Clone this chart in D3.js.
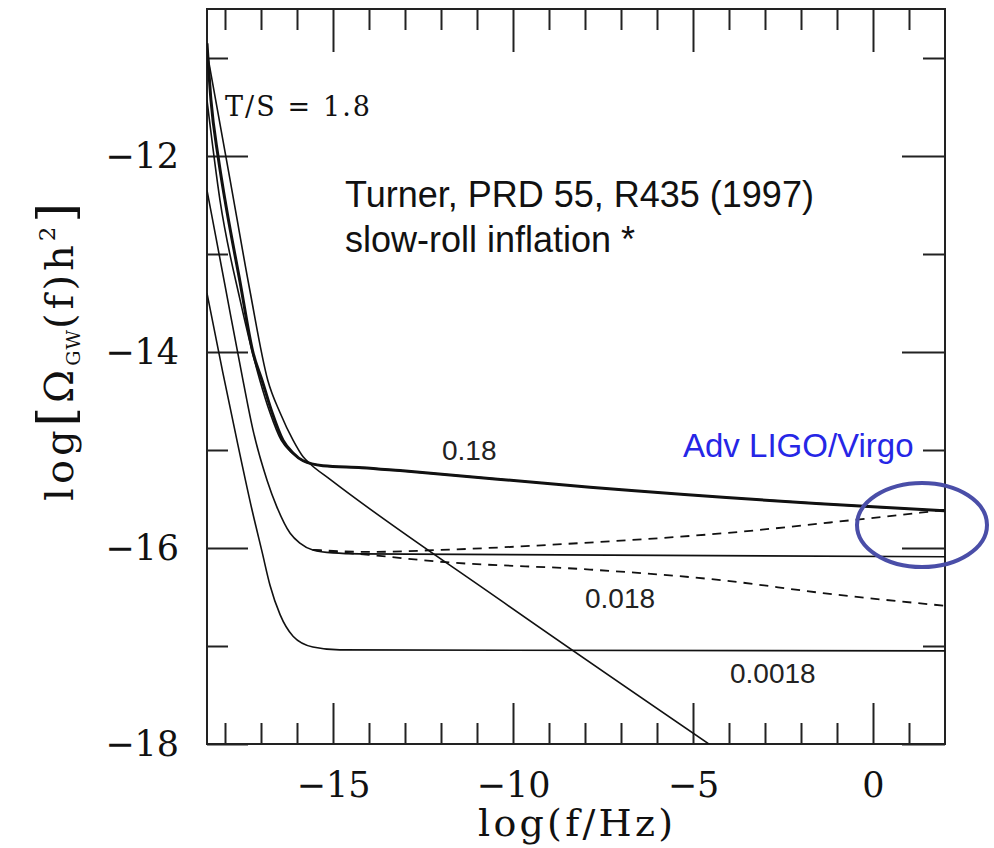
<!DOCTYPE html>
<html>
<head>
<meta charset="utf-8">
<script src="https://cdn.jsdelivr.net/npm/d3@7/dist/d3.min.js"></script>
<style>
  body { margin: 0; background: #fff; }
  svg { display: block; }
</style>
</head>
<body>
<div id="chart"></div>
<script>
// ---- data: [log f, log Omega h^2] ----
// T/S = 0.18 (thick) and its thin companion
const curve0p18 = [[-18.5, -10.85], [-18.39, -11.43], [-18.19, -12.01], [-18.0, -12.45], [-17.58, -13.29],
  [-17.22, -14.01], [-16.97, -14.29], [-16.69, -14.62], [-16.39, -14.90], [-16.11, -15.03], [-15.83, -15.11],
  [-15.28, -15.16], [-14.2, -15.18], [-13.14, -15.21], [-7.86, -15.38], [0, -15.58], [2, -15.62]];
const curve0p18b = [[-18.5, -11.43], [-18.14, -12.45], [-17.58, -13.47], [-17.03, -14.29], [-16.75, -14.62],
  [-16.44, -14.90], [-16.14, -15.03], [-15.83, -15.11], [-15.28, -15.16], [-14.2, -15.18], [-13.14, -15.21],
  [-7.86, -15.38], [0, -15.58], [2, -15.62]];
// T/S = 1.8
const curve1p8 = [[-18.47, -11.0], [-17.86, -12.24], [-17.31, -13.37], [-16.81, -14.29], [-16.47, -14.62],
  [-16.11, -14.90], [-15.83, -15.07], [-15.64, -15.14], [-15.08, -15.30], [-10.36, -16.53], [-4.0, -18.14]];
// T/S = 0.018 (solid) and two dashed variants
const curve0p018 = [[-18.5, -12.35], [-18.0, -13.32], [-17.5, -14.29], [-17.22, -14.80], [-16.83, -15.31],
  [-16.56, -15.58], [-16.19, -15.85], [-15.92, -15.95], [-15.56, -16.02], [-15.0, -16.05], [-14.25, -16.06],
  [2, -16.09]];
const curve0p018Up = [[-15.56, -16.02], [-14.0, -16.04], [-12.03, -16.02], [-8.14, -15.95], [-4.17, -15.85],
  [-0.44, -15.71], [1.31, -15.64], [2, -15.61]];
const curve0p018Down = [[-15.56, -16.02], [-14.0, -16.07], [-12.03, -16.14], [-7.86, -16.22], [-4.17, -16.33],
  [-1.39, -16.46], [2, -16.59]];
// T/S = 0.0018
const curve0p0018 = [[-18.5, -13.40], [-18.06, -14.21], [-17.64, -14.95], [-17.25, -15.61], [-16.97, -16.04],
  [-16.75, -16.38], [-16.47, -16.68], [-16.11, -16.90], [-15.56, -17.01], [-14.81, -17.04], [2, -17.05]];

const tsLabels = ["0.18", "0.018", "0.0018"];

// ticks
const xMajorTicks = [-15, -10, -5, 0];
const xMinorTicks = [-18, -17, -16, -14, -13, -12, -11, -9, -8, -7, -6, -4, -3, -2, -1, 1];
const yMajorTicks = [-18, -16, -14, -12];
const yMinorTicks = [-17, -15, -13, -11];

// ---- size & margins ----
const margin = { top: 9, right: 49, bottom: 104, left: 207 },
      width = 994 - margin.left - margin.right,
      height = 848 - margin.top - margin.bottom;

const svgRoot = d3.select("#chart")
  .append("svg")
    .attr("width", 994)
    .attr("height", 848);

const svg = svgRoot.append("g")
    .attr("transform", `translate(${margin.left},${margin.top})`);

const x = d3.scaleLinear().domain([-18.5, 2]).range([0, width]);
const y = d3.scaleLinear().domain([-18, -10.5]).range([height, 0]);

const serif = "'DejaVu Serif', serif";
const sans = "'Liberation Sans', Arial, sans-serif";

// ---- axes (inward ticks on all four sides) ----
function styleAxis(g) {
  g.select(".domain").remove();
  g.selectAll(".tick line").attr("stroke", "#222").attr("stroke-width", 2);
}

svg.append("g")
  .attr("transform", `translate(0,${height})`)
  .call(d3.axisBottom(x).tickValues(xMajorTicks).tickSizeInner(-41).tickSizeOuter(0).tickPadding(28))
  .call(styleAxis)
  .selectAll("text")
    .style("font-family", serif).style("font-size", "35px").attr("fill", "#111");

svg.append("g")
  .attr("transform", `translate(0,${height})`)
  .call(d3.axisBottom(x).tickValues(xMinorTicks).tickSizeInner(-21).tickSizeOuter(0).tickFormat(""))
  .call(styleAxis);

svg.append("g")
  .call(d3.axisTop(x).tickValues(xMajorTicks).tickSizeInner(-43).tickSizeOuter(0).tickFormat(""))
  .call(styleAxis);

svg.append("g")
  .call(d3.axisTop(x).tickValues(xMinorTicks).tickSizeInner(-21).tickSizeOuter(0).tickFormat(""))
  .call(styleAxis);

svg.append("g")
  .call(d3.axisLeft(y).tickValues(yMajorTicks).tickSizeInner(-41).tickSizeOuter(0).tickPadding(28))
  .call(styleAxis)
  .selectAll("text")
    .style("font-family", serif).style("font-size", "35px").attr("fill", "#111");

svg.append("g")
  .call(d3.axisLeft(y).tickValues(yMinorTicks).tickSizeInner(-21).tickSizeOuter(0).tickFormat(""))
  .call(styleAxis);

svg.append("g")
  .attr("transform", `translate(${width},0)`)
  .call(d3.axisRight(y).tickValues(yMajorTicks).tickSizeInner(-43).tickSizeOuter(0).tickFormat(""))
  .call(styleAxis);

svg.append("g")
  .attr("transform", `translate(${width},0)`)
  .call(d3.axisRight(y).tickValues(yMinorTicks).tickSizeInner(-22).tickSizeOuter(0).tickFormat(""))
  .call(styleAxis);

// frame
svg.append("rect")
  .attr("width", width)
  .attr("height", height)
  .attr("fill", "none")
  .attr("stroke", "#222")
  .attr("stroke-width", 2);

// ---- curves ----
svg.append("clipPath").attr("id", "plotClip")
  .append("rect").attr("width", width).attr("height", height);

const line = d3.line()
  .x(d => x(d[0]))
  .y(d => y(d[1]))
  .curve(d3.curveMonotoneX);

const curves = [
  { data: curve0p0018, w: 1.6, dash: null },
  { data: curve0p018, w: 1.6, dash: null },
  { data: curve0p018Up, w: 1.8, dash: "9,7" },
  { data: curve0p018Down, w: 1.8, dash: "9,7" },
  { data: curve1p8, w: 1.6, dash: null },
  { data: curve0p18b, w: 1.6, dash: null },
  { data: curve0p18, w: 3, dash: null }
];

svg.append("g")
  .attr("clip-path", "url(#plotClip)")
  .selectAll("path")
  .data(curves)
  .enter()
  .append("path")
    .attr("d", d => line(d.data))
    .attr("fill", "none")
    .attr("stroke", "#111")
    .attr("stroke-width", d => d.w)
    .attr("stroke-dasharray", d => d.dash);

// ---- annotations ----
svgRoot.append("text")
  .attr("x", 225).attr("y", 116)
  .attr("textLength", 145).attr("lengthAdjust", "spacing")
  .style("font-family", serif).style("font-size", "27px").attr("fill", "#111")
  .text("T/S = 1.8");

svgRoot.append("text")
  .attr("x", 345).attr("y", 207)
  .style("font-family", sans).style("font-size", "36px").attr("fill", "#111")
  .text("Turner, PRD 55, R435 (1997)");

svgRoot.append("text")
  .attr("x", 345).attr("y", 252)
  .style("font-family", sans).style("font-size", "36px").attr("fill", "#111")
  .text("slow-roll inflation *");

const curveLabels = [
  { t: tsLabels[0], x: 442, y: 460 },
  { t: tsLabels[1], x: 585, y: 608 },
  { t: tsLabels[2], x: 730, y: 683 }
];
svgRoot.selectAll("text.ts")
  .data(curveLabels)
  .enter()
  .append("text")
    .attr("class", "ts")
    .attr("x", d => d.x).attr("y", d => d.y)
    .style("font-family", sans).style("font-size", "28px").attr("fill", "#222")
    .text(d => d.t);

svgRoot.append("text")
  .attr("x", 683).attr("y", 457)
  .style("font-family", sans).style("font-size", "33px").attr("fill", "#2626e6")
  .text("Adv LIGO/Virgo");

svgRoot.append("ellipse")
  .attr("cx", 922).attr("cy", 525).attr("rx", 65).attr("ry", 42)
  .attr("fill", "none").attr("stroke", "#4a4ea8").attr("stroke-width", 4);

// axis titles
svgRoot.append("text")
  .attr("x", 478).attr("y", 836)
  .attr("textLength", 195).attr("lengthAdjust", "spacing")
  .style("font-family", serif).style("font-size", "38px").attr("fill", "#111")
  .text("log(f/Hz)");

const yTitle = svgRoot.append("text")
  .attr("transform", "translate(73,350) rotate(-90)")
  .attr("text-anchor", "middle")
  .style("font-family", serif).style("font-size", "40px").style("letter-spacing", "4px")
  .attr("fill", "#111");
yTitle.append("tspan").text("log");
yTitle.append("tspan").style("font-size", "50px").text("[");
yTitle.append("tspan").text("Ω");
yTitle.append("tspan").attr("dy", 7).style("font-size", "19px").style("letter-spacing", "1px").text("GW");
yTitle.append("tspan").attr("dy", -7).text("(f)h");
yTitle.append("tspan").attr("dy", -18).style("font-size", "23px").text("2");
yTitle.append("tspan").attr("dy", 18).style("font-size", "50px").text("]");
</script>
</body>
</html>
